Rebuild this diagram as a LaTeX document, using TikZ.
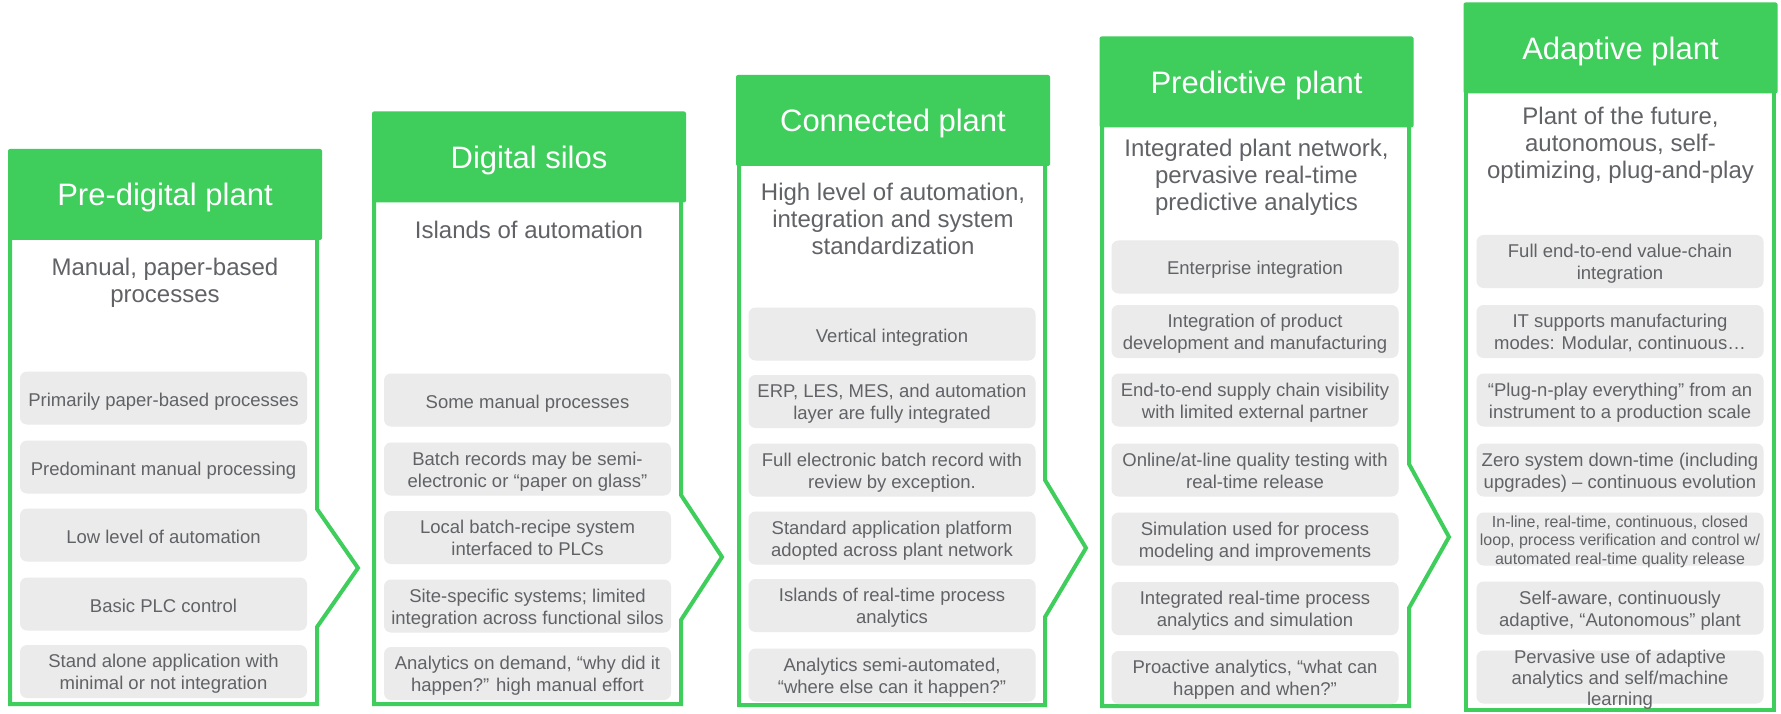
\documentclass[tikz,border=0pt]{standalone}
\usepackage{fontspec}
\setmainfont{Liberation Sans}
\definecolor{leafgreen}{HTML}{3FCD5C}
\definecolor{cardgray}{HTML}{EBEBEB}
\definecolor{inkgray}{HTML}{606266}
\tikzset{
  stage/.style={fill=leafgreen, rounded corners=2pt, minimum width=314pt,
    minimum height=91pt, inner sep=0pt, text=white,
    font=\fontsize{31}{36}\selectfont, text height=22.2pt, text depth=0pt},
  outline/.style={draw=leafgreen, line width=4pt},
  lead/.style={text=inkgray, font=\fontsize{24}{27}\selectfont, align=center,
    anchor=north, inner sep=0pt, execute at begin node=\strut},
  card/.style={fill=cardgray, rounded corners=7pt, minimum width=287pt,
    minimum height=53pt, inner sep=0pt},
  cardtext/.style={text=inkgray, font=\fontsize{18.5}{22}\selectfont,
    align=center, inner sep=0pt, yshift=-3.6pt,
    execute at begin node=\strut, execute at end node=\strut},
}
% one grey card with its centred caption
\newcommand\stagecard[5][]{%
  \node[card] (#2) at (#3,#4) {};
  \node[cardtext,#1] (#2-txt) at (#2.center) {#5};}

\begin{document}
\begin{tikzpicture}[x=1pt,y=-1pt]
\useasboundingbox (0,0) rectangle (1781,714);
\fill[white] (0,0) rectangle (1781,714);

% ---- outlines with chevrons pointing to the next stage ----
\draw[outline] (10,230) -- (10,704) -- (317,704) -- (317,627) -- (358,568)
  -- (317,509) -- (317,230) -- cycle;
\draw[outline] (374,190) -- (374,704) -- (681,704) -- (681,620) -- (722,557)
  -- (681,495) -- (681,190) -- cycle;
\draw[outline] (739,155) -- (739,705) -- (1045,705) -- (1045,617) -- (1086,548)
  -- (1045,480) -- (1045,155) -- cycle;
\draw[outline] (1102,115) -- (1102,706) -- (1409,706) -- (1409,608) -- (1449,537)
  -- (1409,464) -- (1409,115) -- cycle;
\draw[outline] (1466,80) -- (1466,710) -- (1774,710) -- (1774,80) -- cycle;

% ---- stage headers ----
\node[stage] (h1) at (165,194.5) {Pre-digital plant};
\node[stage] (h2) at (529,157) {Digital silos};
\node[stage] (h3) at (893,120.5) {Connected plant};
\node[stage] (h4) at (1256.5,82) {Predictive plant};
\node[stage] (h5) at (1620.5,48) {Adaptive plant};

% ---- stage summaries ----
\node[lead] (s1) at (165,258.1) {Manual, paper-based\\processes};
\node[lead] (s2) at (529,219.1) {Islands of automation};
\node[lead] (s3) at (893,183.1) {High level of automation,\\integration and system\\standardization};
\node[lead] (s4) at (1256.5,139.1) {Integrated plant network,\\pervasive real-time\\predictive analytics};
\node[lead] (s5) at (1620.5,107.1) {Plant of the future,\\autonomous, self-\\optimizing, plug-and-play};

% ---- Pre-digital plant ----
\stagecard{a1}{163.5}{398}{Primarily paper-based processes}
\stagecard{a2}{163.5}{467}{Predominant manual processing}
\stagecard{a3}{163.5}{535}{Low level of automation}
\stagecard{a4}{163.5}{604}{Basic PLC control}
\stagecard{a5}{163.5}{671.5}{Stand alone application with\\minimal or not integration}

% ---- Digital silos ----
\stagecard{b1}{527.5}{400}{Some manual processes}
\stagecard{b2}{527.5}{469}{Batch records may be semi-\\electronic or “paper on glass”}
\stagecard{b3}{527.5}{537.5}{Local batch-recipe system\\interfaced to PLCs}
\stagecard{b4}{527.5}{606}{Site-specific systems; limited\\integration across functional silos}
\stagecard{b5}{527.5}{673.5}{Analytics on demand, “why did it\\happen?” high manual effort}

% ---- Connected plant ----
\stagecard{c1}{892}{334}{Vertical integration}
\stagecard{c2}{892}{401.5}{ERP, LES, MES, and automation\\layer are fully integrated}
\stagecard{c3}{892}{470}{Full electronic batch record with\\review by exception.}
\stagecard{c4}{892}{538}{Standard application platform\\adopted across plant network}
\stagecard{c5}{892}{605.5}{Islands of real-time process\\analytics}
\stagecard{c6}{892}{675}{Analytics semi-automated,\\“where else can it happen?”}

% ---- Predictive plant ----
\stagecard{d1}{1255}{267}{Enterprise integration}
\stagecard{d2}{1255}{331.5}{Integration of product\\development and manufacturing}
\stagecard{d3}{1255}{400}{End-to-end supply chain visibility\\with limited external partner}
\stagecard{d4}{1255}{470}{Online/at-line quality testing with\\real-time release}
\stagecard{d5}{1255}{539}{Simulation used for process\\modeling and improvements}
\stagecard{d6}{1255}{608.5}{Integrated real-time process\\analytics and simulation}
\stagecard{d7}{1255}{677.5}{Proactive analytics, “what can\\happen and when?”}

% ---- Adaptive plant ----
\stagecard{e1}{1620}{261.5}{Full end-to-end value-chain\\integration}
\stagecard{e2}{1620}{331.5}{IT supports manufacturing\\modes: Modular, continuous…}
\stagecard{e3}{1620}{400}{“Plug-n-play everything” from an\\instrument to a production scale}
\stagecard{e4}{1620}{470}{Zero system down-time (including\\upgrades) – continuous evolution}
\stagecard[font=\fontsize{16}{18.5}\selectfont]{e5}{1620}{539}{In-line, real-time, continuous, closed\\loop, process verification and control w/\\automated real-time quality release}
\stagecard{e6}{1620}{608}{Self-aware, continuously\\adaptive, “Autonomous” plant}
\stagecard[font=\fontsize{18.5}{21}\selectfont]{e7}{1620}{677}{Pervasive use of adaptive\\analytics and self/machine\\learning}
\end{tikzpicture}
\end{document}
